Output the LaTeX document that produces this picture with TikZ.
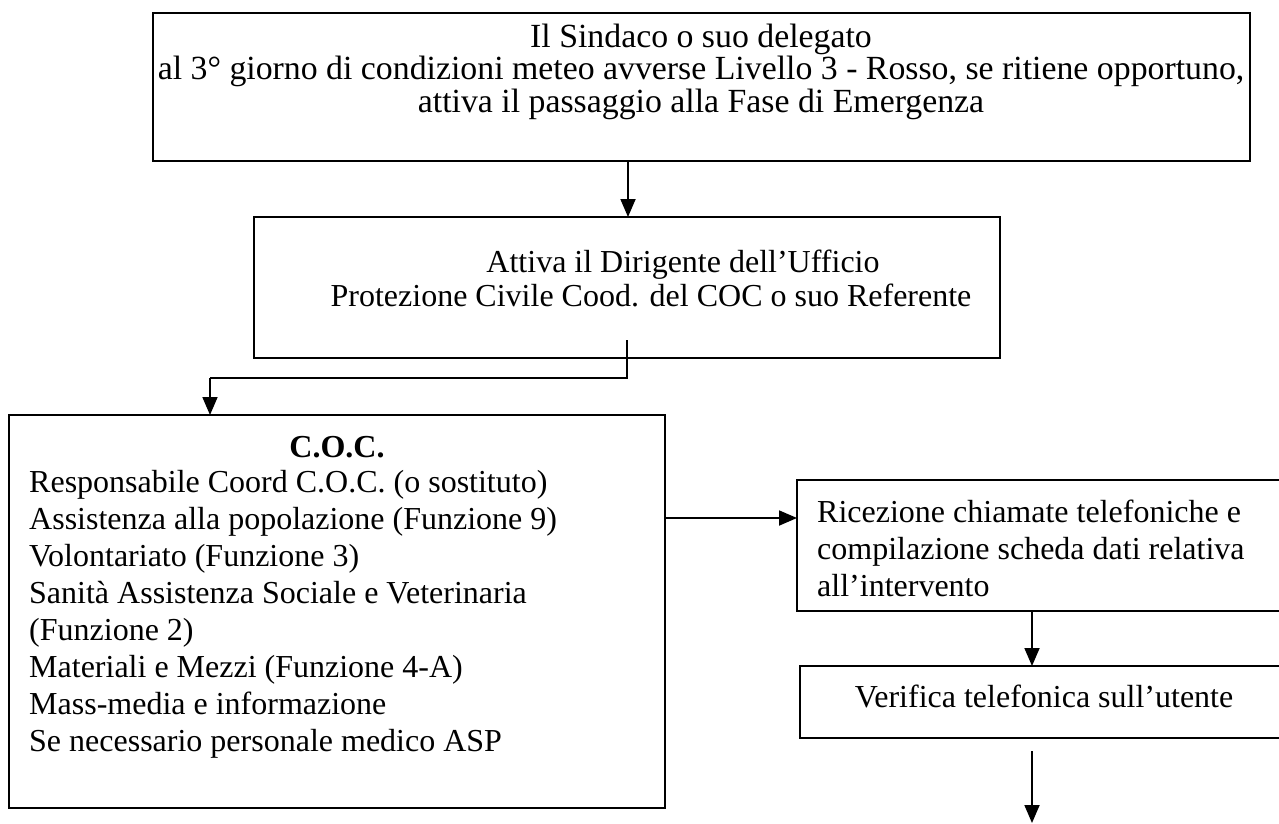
\documentclass[tikz,border=0pt]{standalone}
\usepackage{fontspec}
\setmainfont{Liberation Serif}
\usetikzlibrary{arrows.meta}
\begin{document}
\begin{tikzpicture}[x=1pt,y=-1pt,
  boxframe/.style={draw, line width=1.8pt, inner sep=0pt, outer sep=0pt, anchor=north west},
  txt/.style={inner sep=0pt, font=\fontsize{32}{37}\selectfont},
  conn/.style={line width=1.8pt, -{Triangle[length=18pt,width=15pt]}}]
\useasboundingbox (0,0) rectangle (1279,823);
\clip (0,0) rectangle (1279,823);
% boxes
\node[boxframe, minimum width=1097pt, minimum height=148pt] (b1) at (153,13) {};
\node[boxframe, minimum width=746pt, minimum height=141pt] (b2) at (254,217) {};
\node[boxframe, minimum width=656pt, minimum height=393pt] (b3) at (9,415) {};
\node[boxframe, minimum width=491pt, minimum height=131pt] (b4) at (797,480) {};
\node[boxframe, minimum width=488pt, minimum height=72pt] (b5) at (800,666) {};
% texts (anchor=base is the baseline of the last line)
\node[txt, anchor=base, align=center, font=\fontsize{33.8}{32.5}\selectfont] (t1) at (701,112)
  {Il Sindaco o suo delegato\\al 3° giorno di condizioni meteo avverse Livello 3 - Rosso, se ritiene opportuno,\\attiva il passaggio alla Fase di Emergenza};
\node[txt, anchor=base, align=center, font=\fontsize{32}{34}\selectfont] (t2) at (651,306)
  {\hspace*{64pt}Attiva il Dirigente dell’Ufficio\\Protezione Civile Cood. del COC o suo Referente};
\node[txt, anchor=base, font=\fontsize{32}{37}\selectfont\bfseries] (t3h) at (337,457) {C.O.C.};
\node[txt, anchor=base west, align=left] (t3) at (29,751)
  {Responsabile Coord C.O.C. (o sostituto)\\Assistenza alla popolazione (Funzione 9)\\Volontariato (Funzione 3)\\Sanità Assistenza Sociale e Veterinaria\\(Funzione 2)\\Materiali e Mezzi (Funzione 4-A)\\Mass-media e informazione\\Se necessario personale medico ASP};
\node[txt, anchor=base west, align=left] (t4) at (817,596)
  {Ricezione chiamate telefoniche e\\compilazione scheda dati relativa\\all’intervento};
\node[txt, anchor=base] (t5) at (1044,707) {Verifica telefonica sull’utente};
% connectors
\coordinate (a1) at (628,0);
\draw[conn] (b1.south -| a1) -- (b2.north -| a1);
\coordinate (c2) at (627,340);
\coordinate (k) at (210,378);
\draw[line width=1.8pt] (c2) |- (k);
\draw[conn] (k) -- (k |- b3.north);
\coordinate (h) at (0,518);
\draw[conn] (b3.east |- h) -- (b4.west |- h);
\coordinate (v) at (1032,0);
\draw[conn] (b4.south -| v) -- (b5.north -| v);
\coordinate (e1) at (1032,751);
\coordinate (e2) at (1032,823);
\draw[conn] (e1) -- (e2);
\end{tikzpicture}
\end{document}
